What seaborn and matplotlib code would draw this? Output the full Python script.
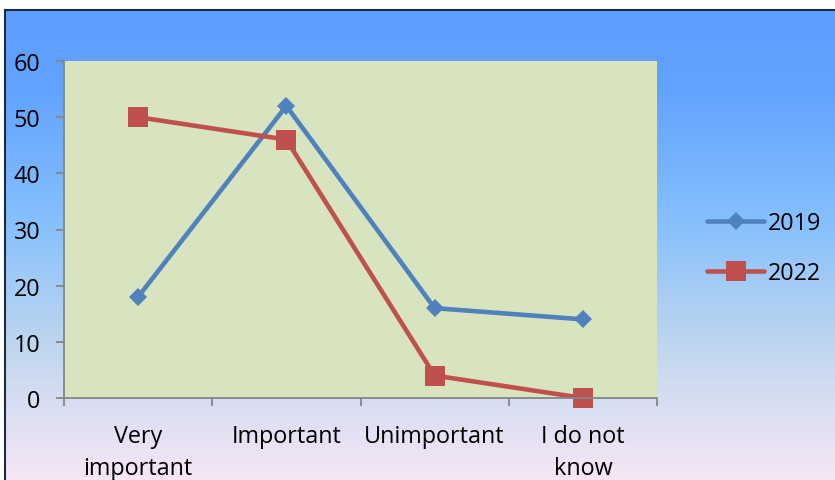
import numpy as np
import pandas as pd
import matplotlib
matplotlib.use("Agg")
import matplotlib.pyplot as plt
from matplotlib.colors import LinearSegmentedColormap
from matplotlib.ticker import FixedLocator
import seaborn as sns

# Survey answers by year
categories = ["Very\nimportant", "Important", "Unimportant", "I do not\nknow"]
values_2019 = [18, 52, 16, 14]
values_2022 = [50, 46, 4, 0]
years = ["2019", "2022"]
yticks = [0, 10, 20, 30, 40, 50, 60]

df = pd.DataFrame({
    "category": categories * 2,
    "value": values_2019 + values_2022,
    "year": [years[0]] * 4 + [years[1]] * 4,
})

sns.set_theme(style="white")
plt.rcParams["font.family"] = ["Open Sans", "DejaVu Sans"]
plt.rcParams["text.color"] = "black"
FS = 16.8

W, H = 835, 481
fig = plt.figure(figsize=(W / 100, H / 100), dpi=100)
fig.patch.set_facecolor("white")

# Gradient panel behind the chart
bg = fig.add_axes([5 / W, 0, (W - 5) / W, (H - 11) / H], zorder=0)
cmap = LinearSegmentedColormap.from_list(
    "sky",
    [(0.0, "#5c9dff"), (0.18, "#63a4ff"), (0.45, "#86c0fd"),
     (0.7, "#bcd5ef"), (0.85, "#dadff2"), (1.0, "#f6e6f6")],
)
grad = np.linspace(0, 1, 256).reshape(-1, 1)
bg.imshow(grad, aspect="auto", cmap=cmap, extent=[0, 1, 1, 0])
bg.set_xlim(0, 1)
bg.set_ylim(1, 0)
bg.set_xticks([])
bg.set_yticks([])
for side in ["right", "bottom"]:
    bg.spines[side].set_visible(False)
for side in ["top", "left"]:
    bg.spines[side].set_color("#1f2a3a")
    bg.spines[side].set_linewidth(1.5)

ax = fig.add_axes([64 / W, 1 - 399 / H, (657 - 64) / W, (399 - 62) / H], zorder=1)
ax.set_facecolor("#d8e4bf")

palette = {"2019": "#4f81bd", "2022": "#c0504d"}
markers = {"2019": "D", "2022": "s"}
msizes = {"2019": 9.5, "2022": 14}
for yr in years:
    sub = df[df["year"] == yr]
    sns.lineplot(data=sub, x="category", y="value", ax=ax, color=palette[yr],
                 marker=markers[yr], markersize=msizes[yr], markeredgewidth=0,
                 linewidth=3.3, label=yr, sort=False, clip_on=False)

ax.set_xlim(-0.5, 3.5)
ax.set_ylim(0, 60)
ax.set_yticks(yticks)
ax.set_xticks(range(len(categories)))
ax.set_xticklabels(categories, linespacing=1.45)
ax.xaxis.set_minor_locator(FixedLocator([-0.5, 0.5, 1.5, 2.5, 3.5]))
ax.set_xlabel("")
ax.set_ylabel("")

for side in ["top", "right"]:
    ax.spines[side].set_visible(False)
for side in ["left", "bottom"]:
    ax.spines[side].set_color("#868686")
    ax.spines[side].set_linewidth(1.3)

ax.tick_params(axis="y", which="major", left=True, length=6, width=1.3,
               color="#868686", labelsize=FS, pad=11, labelcolor="black")
ax.tick_params(axis="x", which="major", bottom=False, length=0,
               labelsize=FS, pad=19, labelcolor="black")
ax.tick_params(axis="x", which="minor", bottom=True, length=6, width=1.3,
               color="#868686")

leg = ax.legend(loc="center left", bbox_to_anchor=(686 / W, 1 - 249 / H),
                bbox_transform=fig.transFigure, frameon=False, fontsize=FS,
                handlelength=2.45, handletextpad=0.15, labelspacing=1.1,
                labelcolor="black")
for line in leg.get_lines():
    line.set_linewidth(3.3)

fig.savefig("out.png", dpi=100)
